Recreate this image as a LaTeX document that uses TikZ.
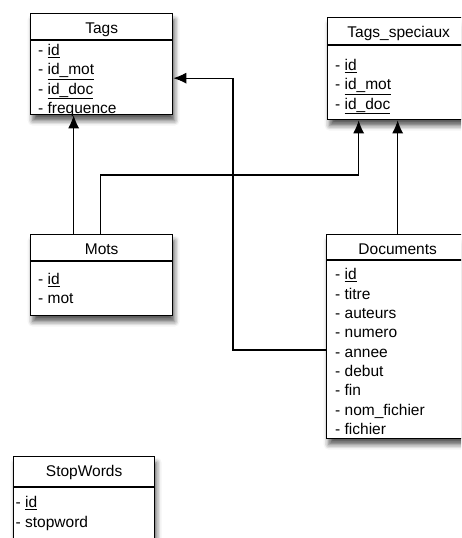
\documentclass[tikz,border=0pt]{standalone}
\usepackage{fontspec}
\setmainfont{Liberation Sans}
\usetikzlibrary{arrows.meta,shadows.blur}

\begin{document}
\begin{tikzpicture}[x=1pt,y=-1pt,
  tbl/.style={draw,line width=1.3pt,fill=white,anchor=north west,minimum width=142pt,inner sep=0pt,
    blur shadow={shadow xshift=2pt,shadow yshift=-6pt,shadow blur radius=5pt,shadow opacity=65}},
  title/.style={anchor=base,inner sep=0pt,font=\fontsize{15.5}{19.3}\selectfont},
  rows/.style={anchor=north west,inner sep=0pt,align=left,font=\fontsize{15.5}{19.3}\selectfont},
  fk/.style={line width=1.1pt,-{Latex[length=13pt,width=11pt]}}]
\useasboundingbox (0,0) rectangle (461,538);
\clip (0,0) rectangle (461,538);

\node[tbl,minimum height=101pt] (tags) at (30,13) {};
\draw[line width=1.3pt] ([yshift=-27pt]tags.north west) -- ([yshift=-27pt]tags.north east);
\node[title] (tagsname) at ([yshift=-20.5pt]tags.north) {Tags};
\node[rows] (tagscols) at ([shift={(8pt,-31pt)}]tags.north west) {- \underline{id}\\- \underline{id\_mot}\\- \underline{id\_doc}\\- frequence};

\node[tbl,minimum height=102pt] (ts) at (327,17) {};
\draw[line width=1.3pt] ([yshift=-28pt]ts.north west) -- ([yshift=-28pt]ts.north east);
\node[title] (tsname) at ([yshift=-20.5pt]ts.north) {Tags\_speciaux};
\node[rows] (tscols) at ([shift={(8pt,-42pt)}]ts.north west) {- \underline{id}\\- \underline{id\_mot}\\- \underline{id\_doc}};

\node[tbl,minimum height=81pt] (mots) at (30,234) {};
\draw[line width=1.3pt] ([yshift=-27pt]mots.north west) -- ([yshift=-27pt]mots.north east);
\node[title] (motsname) at ([yshift=-20.5pt]mots.north) {Mots};
\node[rows] (motscols) at ([shift={(8pt,-39pt)}]mots.north west) {- \underline{id}\\- mot};

\node[tbl,minimum height=204pt] (docs) at (326,234) {};
\draw[line width=1.3pt] ([yshift=-26pt]docs.north west) -- ([yshift=-26pt]docs.north east);
\node[title] (docsname) at ([yshift=-20pt]docs.north) {Documents};
\node[rows] (docscols) at ([shift={(9pt,-34.5pt)}]docs.north west) {- \underline{id}\\- titre\\- auteurs\\- numero\\- annee\\- debut\\- fin\\- nom\_fichier\\- fichier};

\node[tbl,minimum height=85pt,minimum width=141pt] (sw) at (13,456) {};
\draw[line width=1.3pt] ([yshift=-31pt]sw.north west) -- ([yshift=-31pt]sw.north east);
\node[title] (swname) at ([yshift=-20pt]sw.north) {StopWords};
\node[rows] (swcols) at ([shift={(2.5pt,-40.5pt)}]sw.north west) {- \underline{id}\\- stopword};

\draw[fk] ([xshift=-28pt]mots.north) -- ([xshift=-28pt]tags.south);
\draw[fk] ([xshift=-1pt]mots.north) -- ++(0,-59) -| ([xshift=-40pt]ts.south);
\draw[fk] (docs.north) -- (docs.north |- ts.south);
\draw[fk] ([yshift=-116pt]docs.north west) -- ++(-93,0) |- ([yshift=-14pt]tags.east);

\end{tikzpicture}
\end{document}
